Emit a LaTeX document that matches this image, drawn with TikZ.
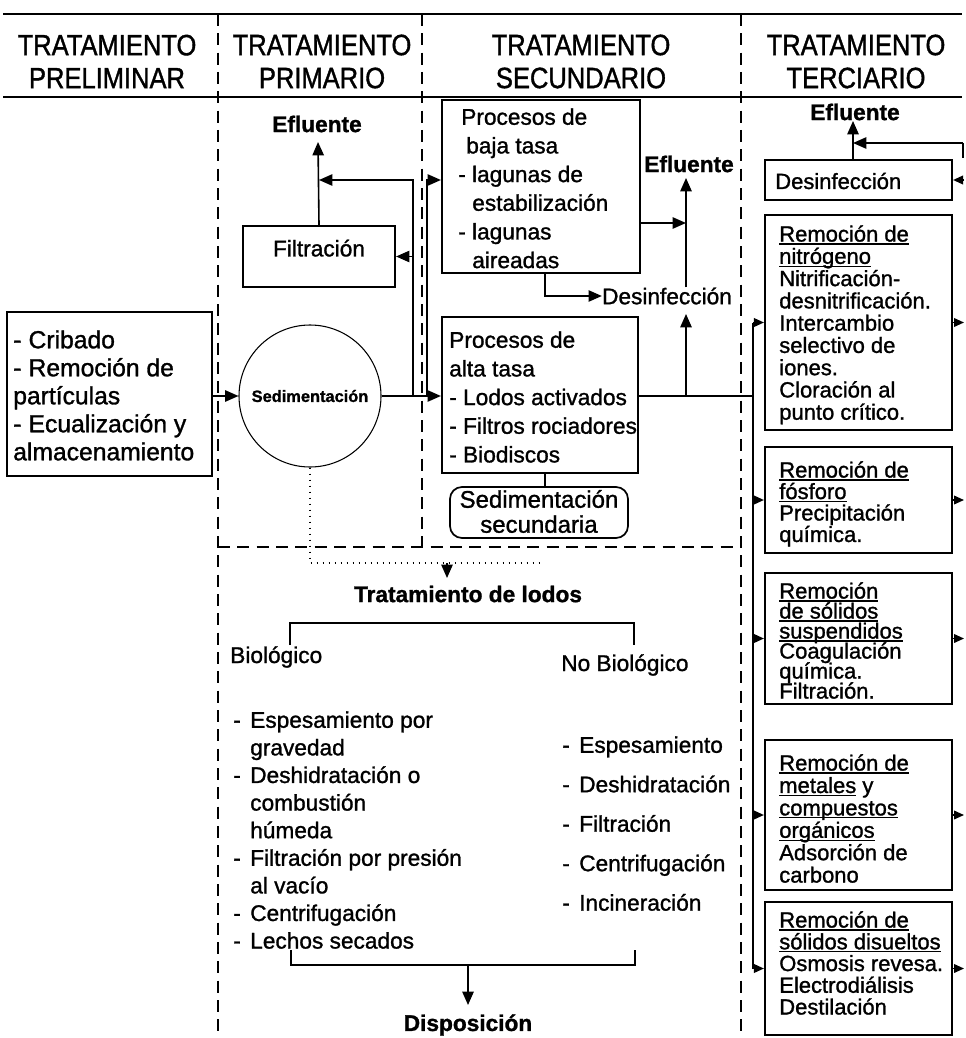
\documentclass[tikz,border=0pt]{standalone}
\usepackage{fontspec}
\setmainfont{Liberation Sans}[FakeBold=1.2]
\newfontfamily\headfont{Liberation Sans}[FakeStretch=0.87, FakeBold=1.2]
\usetikzlibrary{arrows.meta,fit}

% font size with fixed line pitch
\newcommand{\fsz}[2]{\fontsize{#1}{#2}\selectfont\lineskiplimit=-100pt\relax}
% first-line strut so that block tops are predictable
\newcommand{\fl}{\rule{0pt}{16.5pt}}
% underline that runs just below the baseline
\newcommand{\uln}[1]{\setbox0\hbox{#1}\rlap{\rule[-2.2pt]{\wd0}{0.9pt}}\box0\relax}
\newcommand{\dshA}{\makebox[11.5pt][l]{-}}
\newcommand{\dshB}{\makebox[12.75pt][l]{-}}
\newcommand{\indB}{\makebox[12.75pt]{}}

\tikzset{
  box/.style={draw, line width=1.6pt, inner sep=0pt},
  rbox/.style={draw, line width=1.3pt, inner sep=0pt, rounded corners=9pt},
  con/.style={line width=1.2pt},
  arr/.style={con, -{Triangle[length=10pt,width=8.5pt]}},
  sarr/.style={con, -{Triangle[length=7.5pt,width=6.5pt]}},
  sep/.style={line width=1.8pt, dash pattern=on 9pt off 5.5pt},
  dotl/.style={line width=0.9pt, dash pattern=on 0.9pt off 3.6pt},
  rulel/.style={line width=1.7pt},
  head/.style={align=center, inner sep=0pt, font={\headfont\fsz{22}{24.75}}},
  txt/.style={inner sep=0pt, font={\fsz{17}{20}}},
  lbl/.style={inner sep=0pt, font={\bfseries\fsz{17}{20}}},
  blk/.style={inner sep=0pt, anchor=north west, align=left},
  circ/.style={circle, draw, line width=0.8pt, minimum size=106.5pt, inner sep=0pt,
               font={\bfseries\fsz{12.3}{14}}},
}

\begin{document}
\begin{tikzpicture}[x=0.75pt,y=-0.75pt]
\useasboundingbox (0,0) rectangle (965,1038);
\fill[white] (0,0) rectangle (965,1038);

% ---------- header ----------
\draw[rulel] (3,14) -- (962,14);
\draw[rulel] (3,97) -- (962,97);
\node[head] (h1) at (107,61.5) {TRATAMIENTO\\PRELIMINAR};
\node[head] (h2) at (322,61.5) {TRATAMIENTO\\PRIMARIO};
\node[head] (h3) at (581,61.5) {TRATAMIENTO\\SECUNDARIO};
\node[head] (h4) at (856,61.5) {TRATAMIENTO\\TERCIARIO};

% ---------- column separators and sludge area ----------
\draw[sep] (218,14) -- (218,1038);
\draw[sep] (422,14) -- (422,547);
\draw[sep] (741,14) -- (741,1038);
\draw[sep] (218,547) -- (741,547);

% ---------- preliminary ----------
\node[box, fit={(7,312) (212,476)}] (pre) {};
\node[blk, font={\fsz{18.5}{21}}] (preT) at (13,326)
  {\fl\dshA Cribado\\ \dshA Remoción de\\ partículas\\ \dshA Ecualización y\\ almacenamiento};

% ---------- primary ----------
\node[circ] (sed) at (310,396) {Sedimentación};
\node[box, fit={(243,226) (395,287)}, font={\fsz{17}{20}}] (filt) {Filtración};
\node[lbl] (eflP) at (317,124) {Efluente};
\coordinate (eflPtip) at (318,142);
\coordinate (bypL) at (413,180);
\coordinate (bypR) at (427,180);

% ---------- secondary ----------
\node[box, fit={(442,100) (640,273)}] (baja) {};
\node[blk, font={\fsz{17}{21.5}}] (bajaT) at (458,102.5)
  {\fl\hspace*{2.25pt}Procesos de\\ \hspace*{6pt}baja tasa\\ - lagunas de\\
   \makebox[10.5pt]{}estabilización\\ - lagunas\\ \makebox[10.5pt]{}aireadas};
\node[box, fit={(442,317) (638,473)}] (alta) {};
\node[blk, font={\fsz{17}{21.5}}] (altaT) at (449,325.5)
  {\fl Procesos de\\ alta tasa\\ - Lodos activados\\ - Filtros rociadores\\ - Biodiscos};
\node[rbox, fit={(450,487) (628,538)}] (ssec) {};
\node[txt, align=center, font={\fsz{18}{18.75}}] (ssecT) at (539,511.5) {Sedimentación\\secundaria};
\node[txt] (desS) at (667,296) {Desinfección};
\node[lbl] (eflS) at (689,164) {Efluente};
\coordinate (eflStip) at (686,178);
\coordinate (desStip) at (686,314);
\coordinate (vx) at (686,0);
\coordinate (bo) at (545,0);
\coordinate (b2) at (0,223);

% ---------- tertiary ----------
\node[box, fit={(765,160) (952,200)}] (desT) {};
\node[txt, anchor=west, font={\fsz{16.5}{18}}] (desTT) at (775,181) {Desinfección};
\node[lbl] (eflT) at (855,112) {Efluente};
\coordinate (eflTtip) at (853,121);
\coordinate (tx) at (853,0);
\coordinate (retR) at (963,143);
\coordinate (retB) at (963,158);
\coordinate (rx) at (964,0);
\coordinate (tv) at (753,0);

\node[box, fit={(765,215) (952,430)}] (nit) {};
\node[blk, font={\fsz{16.5}{16.7}}] (nitT) at (779,219.3)
  {\fl\uln{Remoción de}\\ \uln{nitrógeno}\\ Nitrificación-\\ desnitrificación.\\
   Intercambio\\ selectivo de\\ iones.\\ Cloración al\\ punto crítico.};
\node[box, fit={(765,447) (952,553)}] (fos) {};
\node[blk, font={\fsz{16.5}{16.1}}] (fosT) at (779,455.3)
  {\fl\uln{Remoción de}\\ \uln{fósforo}\\ Precipitación\\ química.};
\node[box, fit={(765,573) (952,704)}] (sus) {};
\node[blk, font={\fsz{16.5}{15}}] (susT) at (779,576.3)
  {\fl\uln{Remoción}\\ \uln{de sólidos}\\ \uln{suspendidos}\\ Coagulación\\ química.\\ Filtración.};
\node[box, fit={(765,740) (952,890)}] (met) {};
\node[blk, font={\fsz{16.5}{16.8}}] (metT) at (779,748.3)
  {\fl\uln{Remoción de}\\ \uln{metales} y\\ \uln{compuestos}\\ \uln{orgánicos}\\ Adsorción de\\ carbono};
\node[box, fit={(765,902) (952,1035)}] (dis) {};
\node[blk, font={\fsz{16.5}{16.3}}] (disT) at (779,905.3)
  {\fl\uln{Remoción de}\\ \uln{sólidos disueltos}\\ Osmosis revesa.\\ Electrodiálisis\\ Destilación};

% ---------- sludge treatment ----------
\node[lbl] (trat) at (468,594) {Tratamiento de lodos};
\coordinate (lodA) at (447,563);
\coordinate (lodB) at (447,578);
\coordinate (dotE) at (543,563);
\node[txt, anchor=west] (bio) at (230,657) {Biológico};
\node[txt, anchor=west] (nbio) at (561,665) {No Biológico};
\node[blk, font={\fsz{17}{20.7}}] (bioL) at (233,705.5)
  {\fl\dshB Espesamiento por\\ \indB gravedad\\ \dshB Deshidratación o\\ \indB combustión\\
   \indB húmeda\\ \dshB Filtración por presión\\ \indB al vacío\\ \dshB Centrifugación\\ \dshB Lechos secados};
\node[blk, font={\fsz{17}{29.6}}] (nbioL) at (562,730.5)
  {\fl\dshB Espesamiento\\ \dshB Deshidratación\\ \dshB Filtración\\ \dshB Centrifugación\\ \dshB Incineración};
\coordinate (brTL) at (290,645);
\coordinate (brTR) at (634,645);
\coordinate (brBL) at (291,950);
\coordinate (brBR) at (635,950);
\coordinate (dispA) at (468,965);
\coordinate (dispTip) at (468,1005);
\node[lbl] (disp) at (468,1025) {Disposición};

% ---------- connectors: preliminary and primary ----------
\draw[arr] (pre.east |- sed.west) -- (sed.west);
\draw[arr] (sed.east) -- (sed.east -| alta.west);
\draw[arr] (bypL |- sed.east) -- (bypL) -- (bypL -| filt.north);
\draw[arr] (bypL |- filt.east) -- (filt.east);
\draw[arr] (bypR |- sed.east) -- (bypR) -- (bypR -| baja.west);
\draw[arr] (filt.north) -- (eflPtip);

% ---------- connectors: secondary ----------
\draw[arr] (baja.south -| bo) |- (desS.west);
\draw[arr] (baja.east |- b2) -- (vx |- b2);
\draw[arr] (desS.north -| vx) -- (eflStip);
\draw[arr] (vx |- sed.east) -- (desStip);
\draw[con] (alta.east |- sed.east) -- (tv |- sed.east);
\draw[con] (alta.south -| bo) -- (ssec.north -| bo);

% ---------- connectors: tertiary ----------
\draw[con] (tv |- nit.west) -- (tv |- dis.west);
\foreach \b in {nit,fos,sus,met,dis}{
  \draw[sarr] (tv |- \b.west) -- (\b.west);
  \draw[sarr] (\b.east) -- (rx |- \b.east);
}
\draw[sarr] (rx |- desT.east) -- (desT.east);
\draw[arr] (desT.north -| tx) -- (eflTtip);
\draw[arr] (retR) -- (retR -| tx);
\draw[con] (retR) -- (retB);

% ---------- connectors: sludge ----------
\draw[dotl] (sed.south) -- (sed.south |- dotE) -- (dotE);
\draw[arr] (lodA) -- (lodB);
\draw[con] (brTL) -- (brTL |- 0,623) -- (brTR |- 0,623) -- (brTR);
\draw[con] (brBL) -- (brBL |- dispA) -- (brBR |- dispA) -- (brBR);
\draw[arr] (dispA) -- (dispTip);
\end{tikzpicture}
\end{document}
